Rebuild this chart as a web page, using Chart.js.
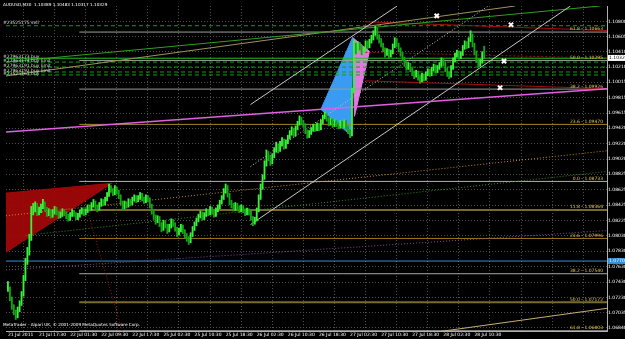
<!DOCTYPE html>
<html>
<head>
<meta charset="utf-8">
<script src="https://cdn.jsdelivr.net/npm/chart.js@4.4.0/dist/chart.umd.min.js"></script>
<style>
  html, body { margin: 0; padding: 0; background: #000; overflow: hidden; }
  #wrap { width: 625px; height: 339px; }
</style>
</head>
<body>
<div id="wrap"><canvas id="myChart" width="625" height="339"></canvas></div>
<script>
// AUDUSD M30, prices in pips above 1.0000 (e.g. 1033 = 1.1033)
const closes = [735,722,712,705,700,708,716,728,748,770,782,800,835,
  838,842,833,836,840,845,838,832,835,830,834,838,833,829,831,835,832,828,826,830,834,831,827,829,833,836,832,835,840,838,843,846,841,838,843,848,845,850,
  856,866,862,858,864,860,854,846,840,
  845,842,848,845,850,853,849,852,856,851,848,853,850,842,835,828,
  822,826,818,812,820,816,810,815,822,818,812,806,810,815,809,803,800,796,804,812,818,823,
  828,832,826,830,835,832,838,834,830,836,840,846,852,860,866,856,846,842,838,843,840,836,840,836,832,836,833,826,820,824,
  836,852,866,878,896,910,904,898,906,914,920,914,922,926,918,924,930,936,940,934,942,948,954,950,946,938,
  932,936,940,944,941,946,942,950,956,960,954,948,952,946,950,947,944,949,945,950,943,938,934,990,1048,
  1042,1050,1046,1040,1044,1052,1048,1054,1058,1064,1070,1060,
  1055,1050,1044,1038,1042,1036,1040,1048,1055,1050,1044,1038,1032,
  1026,1020,1024,1018,1014,1010,1014,1008,1004,1010,1006,1012,
  1016,1012,1018,1022,1016,1020,1024,1030,1026,1018,1012,1010,1020,
  1030,1036,1040,1034,1038,1046,1052,1048,1056,1062,
  1050,1040,1030,1024,1028,1039,1033];
const highs = [744,737,724,714,707,711,719,731,752,774,788,805,841,
  845,847,845,840,844,850,847,840,838,837,837,841,840,835,834,838,837,834,831,833,837,836,833,832,836,839,838,838,843,843,846,850,848,843,846,851,850,853,
  859,870,868,864,868,866,862,856,848,
  848,847,851,850,853,856,855,855,859,858,853,856,855,852,844,837,
  830,829,828,820,823,822,818,818,825,824,820,814,813,818,817,811,806,802,807,815,821,826,
  831,835,834,833,838,837,841,840,836,839,843,849,855,864,870,868,858,849,845,846,845,842,843,842,838,839,838,835,828,827,
  839,856,870,882,900,914,912,907,909,917,924,922,925,930,928,927,933,939,944,942,945,951,958,956,952,948,
  940,939,943,947,946,949,948,953,959,963,961,956,955,954,953,952,949,952,951,953,952,945,940,994,1056,
  1052,1054,1053,1049,1047,1055,1055,1057,1062,1068,1074,1072,
  1063,1058,1052,1046,1045,1044,1043,1051,1059,1058,1052,1046,1040,
  1034,1028,1027,1026,1020,1016,1017,1016,1010,1013,1012,1015,
  1019,1018,1021,1025,1024,1023,1027,1033,1032,1028,1020,1015,1023,
  1033,1039,1043,1042,1041,1049,1055,1054,1059,1068,
  1064,1052,1042,1032,1031,1041,1048];
const lows = [731,719,708,701,695,697,705,713,725,745,766,778,797,
  830,834,829,830,833,838,835,828,829,826,827,831,830,825,826,828,829,825,822,823,828,828,824,824,827,831,829,830,833,835,836,840,838,834,836,841,842,843,
  848,854,859,855,856,857,851,843,836,
  838,839,840,842,843,848,846,847,850,848,845,846,847,839,831,824,
  818,820,815,808,810,813,806,808,813,815,809,802,804,808,806,800,796,792,794,802,810,816,
  821,826,823,824,828,829,830,831,827,828,834,838,844,850,858,853,843,839,835,836,837,833,834,833,829,830,830,823,816,818,
  822,834,850,863,876,893,900,894,896,904,911,910,912,919,915,916,922,928,933,931,932,940,946,947,943,935,
  929,930,934,938,938,939,939,940,948,954,951,945,946,943,944,944,941,942,942,943,940,935,930,932,988,
  1038,1040,1043,1037,1038,1042,1045,1046,1052,1056,1062,1057,
  1052,1047,1041,1034,1036,1033,1034,1038,1046,1047,1041,1035,1029,
  1022,1017,1018,1015,1010,1006,1008,1004,1000,1002,1003,1004,
  1010,1009,1010,1016,1013,1014,1018,1022,1023,1015,1009,1006,1008,
  1018,1028,1034,1031,1032,1036,1044,1045,1046,1054,
  1047,1037,1027,1021,1022,1026,1032];

// time axis: label every 16 bars
const timeLabels = ['21 Jul 2011','21 Jul 17:30','22 Jul 01:30','22 Jul 09:30','22 Jul 17:30',
  '25 Jul 02:30','25 Jul 10:30','25 Jul 18:30','26 Jul 02:30','26 Jul 10:30','26 Jul 18:30',
  '27 Jul 02:30','27 Jul 10:30','27 Jul 18:30','28 Jul 02:30','28 Jul 10:30','','','',''];
const priceTicks = [1.10800,1.10605,1.10410,1.10210,1.10015,1.09815,1.09615,1.09420,1.09220,1.09020,
  1.08825,1.08625,1.08425,1.08225,1.08030,1.07830,1.07630,1.07430,1.07230,1.07035,1.06840];

// fibo levels: [level, price, colour, width]
const fiboUp = [['23.6',1.09470,'#a08a2a',1],['38.2',1.09926,'#9a9a9a',1],['50.0',1.10295,'#9a9a9a',1],['61.8',1.10663,'#a0a0a0',1]];
const fiboDown = [['0.0',1.08733,'#b0b0b0',1],['11.8',1.08364,'#7a6c28',2],['23.6',1.07996,'#9a7a1a',1],['38.2',1.07540,'#a8a8a8',1],['50.0',1.07172,'#7a6c28',2],['61.8',1.06803,'#a8a8a8',1]];
const fiboStartBar = 36.7;

// trend lines: [bar1, price1, bar2, price2, colour, dash]
const trendLines = [
  [-1,1.09371,308.2,1.09931,'#e060e0',[]],
  [124.8,1.08175,289.4,1.11000,'#c8c8c8',[]],
  [124.8,1.09727,200.2,1.11000,'#c8c8c8',[]],
  [124.8,1.08926,247.1,1.11000,'#c8c8c8',[1,2]],
  [-1,1.08289,308.2,1.09129,'#c88a20',[1,2]],
  [9.2,1.08035,308.2,1.08862,'#3a8a20',[1,2]],
  [-1,1.07589,308.2,1.08098,'#8a4a9a',[1,2]],
  [37.2,1.08671,60.1,1.06686,'#a01010',[1,2]],
  [191.6,1.06686,308.2,1.07093,'#c8b070',[]],
  [-1,1.10275,304.6,1.11000,'#30a020',[]],
  [-1,1.10096,260.9,1.11000,'#a09060',[]],
  [183.9,1.10796,308.2,1.10682,'#a01010',[]],
  [183.9,1.10033,308.2,1.09931,'#a01010',[]],
  [183.9,1.10402,308.2,1.10325,'#a01010',[2,2]]
];
// order lines: [price, label]
const orders = [[1.10745,'#23525175 sell'],[1.10325,'#27963173 buy'],[1.10275,'#27963174 buy limit'],
  [1.10211,'#27963191 buy limit'],[1.10147,'#27963192 buy limit'],[1.10109,'#23525161 buy']];
const bluePrice = 1.07704;
const lastPrice = 1.10329;

// filled shapes
const redWedge = [[-1,1.08582],[53.5,1.08709],[-1,1.07818]];
const blueTri = [[161.0,1.09664],[177.3,1.10593],[176.8,1.09320]];
const pinkTri = [[177.3,1.10593],[186.0,1.10415],[178.3,1.09575]];
const crossMarks = [[220.6,1.10873],[258.8,1.10758],[255.2,1.10287],[253.2,1.09944]];

const px = v => 1 + v / 10000;
const xMin = -1, xMax = 308.2;
const tinyFont = '"DejaVu Sans"';

const candles = highs.map((h, i) => ({ x: i, y: [px(lows[i]), px(h)] }));
const upColor = closes.map((c, i) => (i === 0 || c >= closes[i - 1]) ? '#3af03a' : '#18a418');

const datasets = [];
const shape = (pts, color) => ({
  type: 'line', data: pts.concat([pts[0]]).map(p => ({ x: p[0], y: p[1] })),
  borderColor: color, backgroundColor: color, borderWidth: 1, pointRadius: 0,
  fill: 'shape', tension: 0, order: 5
});
datasets.push(shape(redWedge, 'rgba(165,8,8,0.92)'));
datasets.push(shape(blueTri, '#3a9cf0'));
datasets.push(shape(pinkTri, '#e07ae0'));

fiboUp.concat(fiboDown).forEach(f => {
  datasets.push({ type: 'line', data: [{ x: fiboStartBar, y: f[1] }, { x: xMax, y: f[1] }],
    borderColor: f[2], borderWidth: f[3], pointRadius: 0, order: 4 });
});
orders.forEach((o, k) => {
  datasets.push({ type: 'line', data: [{ x: xMin, y: o[0] }, { x: xMax, y: o[0] }],
    borderColor: k === 1 ? '#20c020' : '#10a010', borderWidth: 1, borderDash: k === 1 ? [] : [4, 3],
    pointRadius: 0, order: 4 });
});
datasets.push({ type: 'line', data: [{ x: xMin, y: bluePrice }, { x: xMax, y: bluePrice }],
  borderColor: '#2f8fd8', borderWidth: 1, pointRadius: 0, order: 4 });
trendLines.forEach(t => {
  datasets.push({ type: 'line', data: [{ x: t[0], y: t[1] }, { x: t[2], y: t[3] }],
    borderColor: t[4], borderWidth: t[4] === '#e060e0' ? 1.5 : 1, borderDash: t[5], pointRadius: 0, order: 3 });
});
datasets.push({ type: 'bar', data: candles, backgroundColor: upColor, borderWidth: 0,
  barThickness: 1.2, grouped: false, order: 2 });
datasets.push({ type: 'scatter', data: crossMarks.map(p => ({ x: p[0], y: p[1] })),
  pointStyle: 'crossRot', pointRadius: 3, borderColor: '#ffffff', borderWidth: 2, order: 1 });

const textPlugin = {
  id: 'mtText',
  afterDatasetsDraw(chart) {
    const ctx = chart.ctx, y = chart.scales.y, a = chart.chartArea;
    ctx.save();
    ctx.font = '4.5px ' + tinyFont;
    ctx.textBaseline = 'bottom';
    ctx.textAlign = 'right';
    ctx.fillStyle = '#e0c850';
    fiboUp.concat(fiboDown).forEach(f => {
      ctx.fillText(f[0] + ' - ' + f[1].toFixed(5), a.right - 4, y.getPixelForValue(f[1]) - 0.5);
    });
    ctx.textAlign = 'left';
    ctx.fillStyle = '#d8d8d8';
    orders.forEach((o, k) => {
      const yy = y.getPixelForValue(o[0]);
      ctx.fillText(o[1], 3, k === 0 ? yy - 1 : yy + 1);
    });
    ctx.fillStyle = '#ffffff';
    ctx.textBaseline = 'middle';
    ctx.font = '4.2px ' + tinyFont;
    ctx.fillText('AUDUSD,M30  1.10389 1.10483 1.10317 1.10329', 3, 5);
    ctx.fillText('MetaTrader - Alpari UK, \u00a9 2001-2009 MetaQuotes Software Corp.', 3, a.bottom - 6);
    ctx.font = '4.5px ' + tinyFont;
    // price boxes on the axis
    const box = (price, bg, fg) => {
      const yy = y.getPixelForValue(price);
      ctx.fillStyle = bg;
      ctx.fillRect(a.right + 1, yy - 3, 20, 6);
      ctx.fillStyle = fg;
      ctx.fillText(price.toFixed(5), a.right + 2, yy);
    };
    box(lastPrice, '#ffffff', '#000000');
    box(bluePrice, '#2f8fd8', '#ffffff');
    ctx.restore();
  }
};

new Chart(document.getElementById('myChart'), {
  type: 'bar',
  data: { datasets: datasets },
  options: {
    responsive: false,
    animation: false,
    events: [],
    layout: { padding: 0 },
    plugins: { legend: { display: false }, tooltip: { enabled: false } },
    scales: {
      x: {
        type: 'linear', min: xMin, max: xMax, offset: false,
        afterBuildTicks: s => { s.ticks = timeLabels.map((t, k) => ({ value: k * 16 })); },
        afterFit: s => { s.height = 8; },
        ticks: { autoSkip: false, maxRotation: 0, align: 'start', padding: 1, color: '#ffffff',
          font: { size: 4.5, family: 'DejaVu Sans' },
          callback: (v, k) => timeLabels[k] },
        grid: { color: '#505050', drawTicks: false },
        border: { color: '#b0b0b0', dash: [1, 2] }
      },
      y: {
        type: 'linear', position: 'right', min: 1.0680, max: 1.1100,
        afterBuildTicks: s => { s.ticks = priceTicks.map(v => ({ value: v })); },
        afterFit: s => { s.width = 18; },
        ticks: { padding: 1, color: '#ffffff', font: { size: 4.5, family: 'DejaVu Sans' },
          callback: v => v.toFixed(5) },
        grid: { color: '#505050', drawTicks: false },
        border: { color: '#b0b0b0', dash: [1, 2] }
      }
    }
  },
  plugins: [textPlugin]
});
</script>
</body>
</html>
